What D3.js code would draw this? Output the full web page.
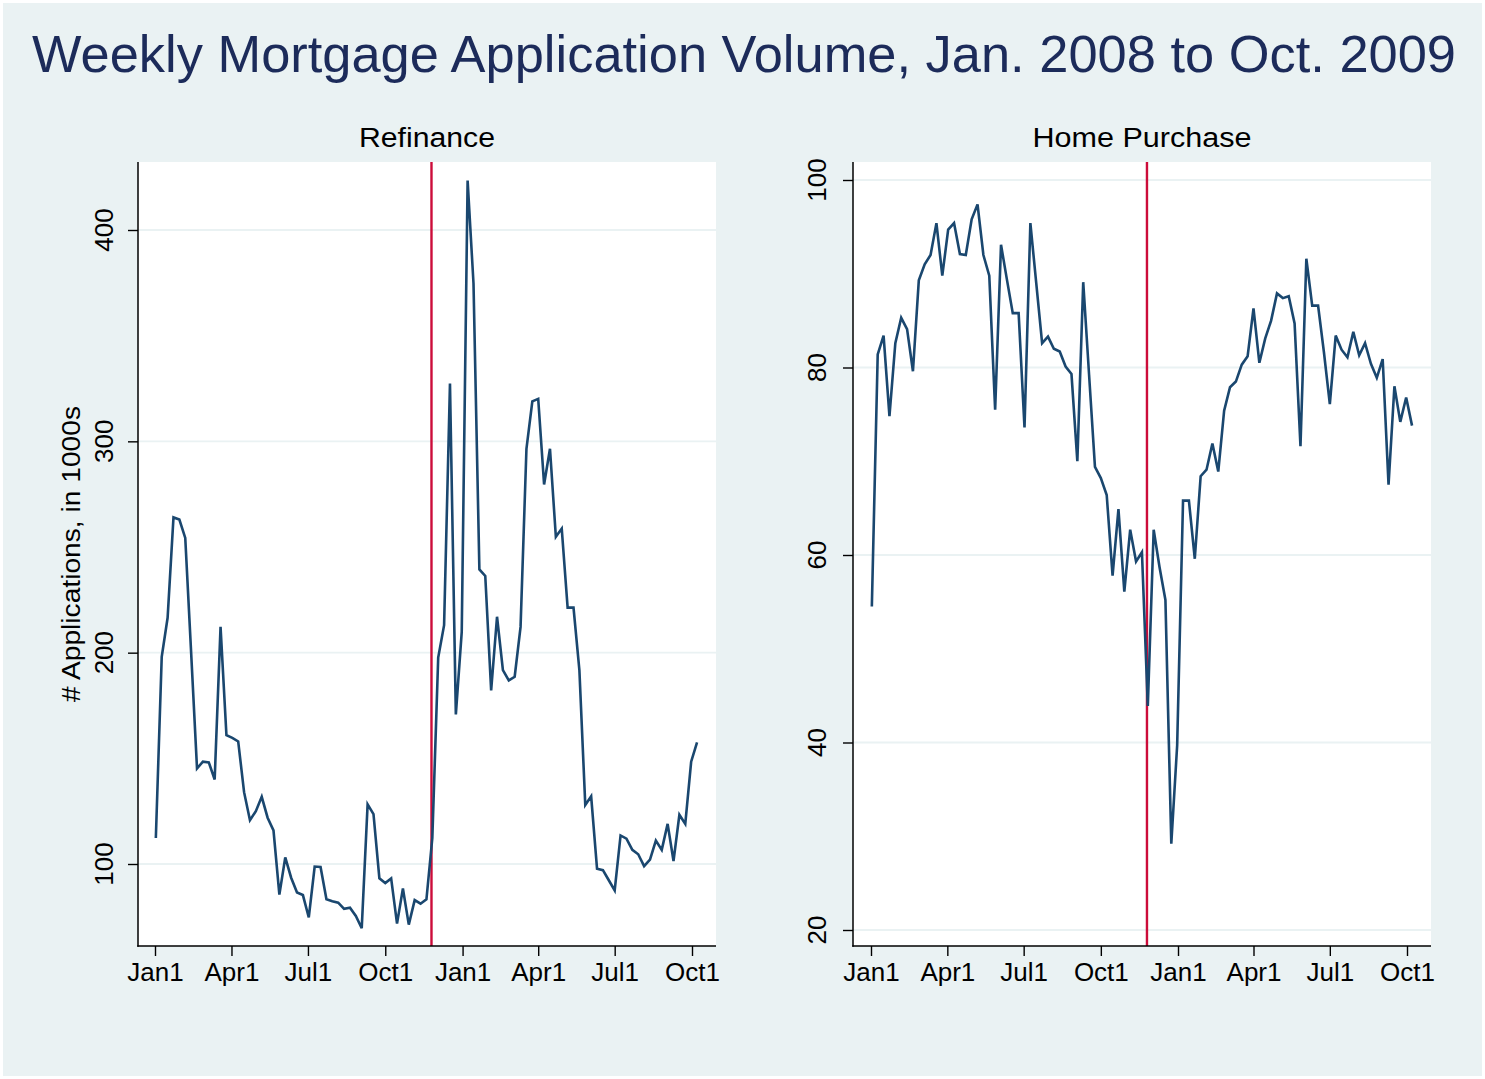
<!DOCTYPE html>
<html>
<head>
<meta charset="utf-8">
<script src="https://cdn.jsdelivr.net/npm/d3@7"></script>
<style>
  html, body { margin: 0; padding: 0; background: #ffffff; }
  svg { display: block; font-family: "Liberation Sans", Arial, Helvetica, sans-serif; }
</style>
</head>
<body>
<svg id="chart" width="1485" height="1079"></svg>
<script>
// ---------------- DATA ----------------
const chartTitle = "Weekly Mortgage Application Volume, Jan. 2008 to Oct. 2009";
const panelTitles = ["Refinance", "Home Purchase"];
const yAxisTitle = "# Applications, in 1000s";
const xTickLabels = ["Jan1", "Apr1", "Jul1", "Oct1", "Jan1", "Apr1", "Jul1", "Oct1"];
const xTickDates = ["2008-01-01", "2008-04-01", "2008-07-01", "2008-10-01",
                    "2009-01-01", "2009-04-01", "2009-07-01", "2009-10-01"];
const refiTicks = [100, 200, 300, 400];
const purchTicks = [20, 40, 60, 80, 100];
const eventDate = "2008-11-25";
// weekly observations (Wednesdays), Jan 2 2008 .. Oct 7 2009
const firstWeek = "2008-01-02";
const lastWeek = "2009-10-07";

const refinance = [
  112.3, 198, 216.5, 264, 263, 254.3, 200, 145.2, 148.4, 148.1,
  140, 212.2, 161, 159.7, 158, 134, 120.7, 125, 131.8, 121.9,
  115.9, 85.5, 103.1, 93.5, 86.5, 85.3, 74.7, 98.8, 98.6, 83.3,
  82.4, 81.7, 78.8, 79.3, 75.4, 69.6, 128.2, 123.6, 93.2, 91,
  93.2, 71.8, 88.4, 71.3, 82.9, 81.2, 83.3, 112.3, 197.7, 213,
  327.3, 170.8, 209.8, 423.4, 374.7, 239.4, 236.3, 182.1, 217, 191.7,
  186.9, 188.6, 212.2, 296.5, 318.9, 320.1, 279.6, 296.5, 254.8, 258.7,
  221.3, 221.3, 191.7, 127.9, 132, 97.8, 97.1, 92.3, 87.5, 113.5,
  112, 106.7, 104.6, 99, 102.1, 111.1, 106.7, 119, 101.4, 123.3,
  119, 148.4, 157.5
];

const purchase = [
  54.5, 81.4, 83.4, 74.8, 82.6, 85.3, 84.1, 79.6, 89.3, 91,
  92, 95.4, 89.8, 94.7, 95.4, 92.1, 92, 95.8, 97.4, 92,
  89.8, 75.5, 93.1, 89.4, 85.8, 85.8, 73.6, 95.4, 89, 82.6,
  83.3, 82, 81.7, 80.1, 79.3, 70, 89.1, 79.2, 69.4, 68.2,
  66.4, 57.8, 64.9, 56.1, 62.7, 59.3, 60.3, 43.9, 62.7, 58.7,
  55.2, 29.2, 39.7, 65.8, 65.8, 59.6, 68.4, 69.1, 71.9, 68.9,
  75.4, 77.9, 78.5, 80.3, 81.2, 86.3, 80.5, 83.1, 85, 87.9,
  87.4, 87.6, 84.7, 71.6, 91.6, 86.6, 86.6, 81.6, 76.1, 83.4,
  81.9, 81.1, 83.8, 81.3, 82.6, 80.4, 78.9, 80.9, 67.5, 78,
  74.2, 76.8, 73.8
];

// ---------------- LAYOUT ----------------
const parse = d3.timeParse("%Y-%m-%d");
const weeks = d3.timeWednesday.range(parse(firstWeek), d3.timeDay.offset(parse(lastWeek), 1));

const svg = d3.select("#chart");
const W = 1485, H = 1079;

svg.append("rect").attr("x", 0).attr("y", 0).attr("width", W).attr("height", H).attr("fill", "#ffffff");
svg.append("rect").attr("x", 3).attr("y", 3).attr("width", W - 6).attr("height", H - 6).attr("fill", "#eaf2f3");

const NAVY = "#1a476f";
const RED = "#cc0c3a";
const GRID = "#eaf2f3";
const TITLE = "#1c2b5a";

function fitText(sel, len) {
  sel.attr("textLength", len).attr("lengthAdjust", "spacingAndGlyphs");
}

const title = svg.append("text")
  .attr("x", 744).attr("y", 72)
  .attr("text-anchor", "middle")
  .attr("font-size", 52)
  .attr("fill", TITLE)
  .text(chartTitle);
fitText(title, 1424);

const panels = [
  { values: refinance, ticks: refiTicks, yDomain: [100, 400], yRange: [864, 230],
    left: 138, right: 716, xr: [155, 692], title: panelTitles[0], titleW: 136,
    labelX: 113, yTitle: true },
  { values: purchase, ticks: purchTicks, yDomain: [20, 100], yRange: [930, 180],
    left: 853, right: 1431, xr: [871, 1407], title: panelTitles[1], titleW: 219,
    labelX: 826, yTitle: false }
];

const plotTop = 162, plotBottom = 946;

panels.forEach(p => {
  const x = d3.scaleTime()
    .domain([parse(xTickDates[0]), parse(xTickDates[xTickDates.length - 1])])
    .range(p.xr);
  const y = d3.scaleLinear().domain(p.yDomain).range(p.yRange);

  const g = svg.append("g");

  // plot region
  g.append("rect")
    .attr("x", p.left).attr("y", plotTop)
    .attr("width", p.right - p.left).attr("height", plotBottom - plotTop)
    .attr("fill", "#ffffff");

  // gridlines
  g.selectAll(".grid").data(p.ticks).enter().append("line")
    .attr("x1", p.left).attr("x2", p.right)
    .attr("y1", d => y(d)).attr("y2", d => y(d))
    .attr("stroke", GRID).attr("stroke-width", 1.8);

  // event line
  g.append("line")
    .attr("x1", x(parse(eventDate))).attr("x2", x(parse(eventDate)))
    .attr("y1", plotTop).attr("y2", plotBottom)
    .attr("stroke", RED).attr("stroke-width", 2.4);

  // data line
  const line = d3.line()
    .x((d, i) => x(weeks[i]))
    .y(d => y(d));
  g.append("path")
    .datum(p.values)
    .attr("d", line)
    .attr("fill", "none")
    .attr("stroke", NAVY)
    .attr("stroke-width", 2.6)
    .attr("stroke-linejoin", "miter");

  // y axis
  const yAxis = d3.axisLeft(y).tickValues(p.ticks).tickSize(10).tickFormat(d3.format("d")).tickPadding(0);
  const ya = g.append("g").attr("transform", `translate(${p.left},0)`).call(yAxis);
  ya.select(".domain").remove();
  ya.selectAll(".tick line").attr("stroke", "#000").attr("stroke-width", 1.4);
  ya.selectAll(".tick text").remove();
  g.append("line").attr("x1", p.left).attr("x2", p.left).attr("y1", plotTop).attr("y2", plotBottom + 0.7)
    .attr("stroke", "#000").attr("stroke-width", 1.5);
  g.selectAll(".ylab").data(p.ticks).enter().append("text")
    .attr("transform", d => `translate(${p.labelX},${y(d)}) rotate(-90)`)
    .attr("text-anchor", "middle")
    .attr("font-size", 26)
    .attr("fill", "#000")
    .text(d => d);

  // x axis
  const xAxis = d3.axisBottom(x)
    .tickValues(xTickDates.map(parse))
    .tickSize(10)
    .tickFormat((d, i) => xTickLabels[i])
    .tickPadding(6);
  const xa = g.append("g").attr("transform", `translate(0,${plotBottom})`).call(xAxis);
  xa.select(".domain").remove();
  xa.selectAll(".tick line").attr("stroke", "#000").attr("stroke-width", 1.4);
  xa.selectAll(".tick text").attr("font-size", 26).attr("fill", "#000")
    .attr("font-family", "'Liberation Sans', Arial, sans-serif")
    .attr("dy", "0.72em");
  g.append("line").attr("x1", p.left - 0.75).attr("x2", p.right).attr("y1", plotBottom).attr("y2", plotBottom)
    .attr("stroke", "#000").attr("stroke-width", 1.5);

  // panel title
  const pt = g.append("text")
    .attr("x", (p.left + p.right) / 2).attr("y", 147)
    .attr("text-anchor", "middle")
    .attr("font-size", 27)
    .attr("fill", "#000")
    .text(p.title);
  fitText(pt, p.titleW);

  if (p.yTitle) {
    const yt = g.append("text")
      .attr("transform", `translate(80,${(plotTop + plotBottom) / 2}) rotate(-90)`)
      .attr("text-anchor", "middle")
      .attr("font-size", 25)
      .attr("fill", "#000")
      .text(yAxisTitle);
    fitText(yt, 296);
  }
});
</script>
</body>
</html>
